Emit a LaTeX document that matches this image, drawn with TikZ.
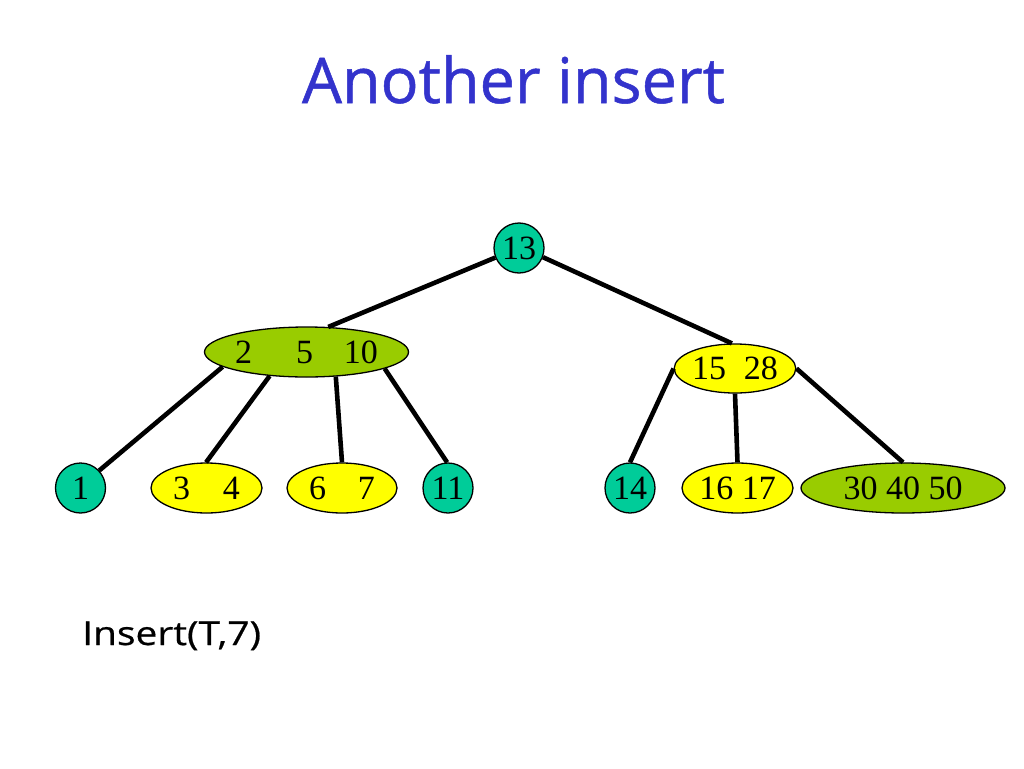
\documentclass[tikz,border=0pt]{standalone}
\usepackage{fontspec}
\setmainfont{Liberation Serif}
\newfontfamily\titlefont[FakeBold=0.8]{Open Sans}
\newfontfamily\capfont[FakeStretch=1.18,FakeBold=0.6]{Open Sans}
\usetikzlibrary{shapes.geometric}
\definecolor{tealc}{RGB}{0,204,153}
\definecolor{greenc}{RGB}{153,204,0}
\definecolor{yellowc}{RGB}{255,255,0}
\definecolor{titleblue}{RGB}{51,51,204}
\tikzset{
  numfont/.style={font=\fontsize{34}{34}\selectfont},
  circnode/.style={circle, draw=black, line width=1.3pt, fill=tealc, minimum size=50pt, inner sep=0pt, numfont},
  ellnode/.style={ellipse, draw=black, line width=1.3pt, inner sep=0pt, numfont, minimum height=50pt},
  yell/.style={ellnode, fill=yellowc, minimum width=111pt},
  grn/.style={ellnode, fill=greenc, minimum width=204pt},
  treeedge/.style={line width=4.6pt, black}
}
\begin{document}
\begin{tikzpicture}[x=1pt,y=-1pt]
\useasboundingbox[fill=white] (0,0) rectangle (1024,768);
% title
\node[anchor=base, text=titleblue, font=\titlefont\fontsize{63}{63}\selectfont, inner sep=0pt] (title) at (513.5,103) {Another insert};
% nodes
\node[circnode] (n13) at (519,248) {13};
\node[grn] (n2510) at (306.5,352) {2\hspace{44pt}5\hspace{31pt}10};
\node[yell, minimum width=110pt, minimum height=49pt] (n1528) at (735,368.5) {15\hspace{18pt}28};
\node[circnode] (n1) at (80.5,488) {1};
\node[yell] (n34) at (206.5,488) {3\hspace{33pt}4};
\node[yell, minimum width=110pt] (n67) at (342,488) {6\hspace{32pt}7};
\node[circnode] (n11) at (448,488) {11};
\node[circnode] (n14) at (630,488) {14};
\node[yell] (n1617) at (737.5,488) {16 17};
\node[grn] (n304050) at (903,488) {30 40 50};
% edges
\draw[treeedge] (n13.202) -- (n2510.49);
\draw[treeedge] (n13.339) -- (n1528.97);
\draw[treeedge] (n2510.190) -- (n1.43);
\draw[treeedge] (n2510.213) -- (n34.91);
\draw[treeedge] (n2510.320) -- (n67.90);
\draw[treeedge] (n2510.348) -- (n11.92);
\draw[treeedge] (n1528.180) -- (n14.90);
\draw[treeedge] (n1528.270) -- (n1617.90);
\draw[treeedge] (n1528.0) -- (n304050.90);
% caption
\node[anchor=base west, font=\capfont\fontsize{33}{33}\selectfont, inner sep=0pt] (cap) at (82,645) {Insert(T,7)};
\end{tikzpicture}
\end{document}
